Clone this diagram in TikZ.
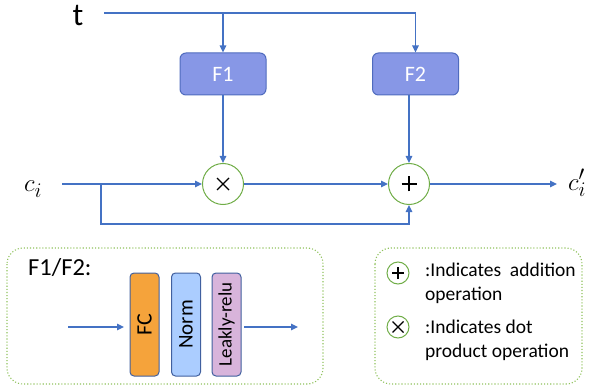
\documentclass[tikz,border=0pt]{standalone}
\usepackage{fontspec}
\setmainfont{Carlito}
\usetikzlibrary{arrows.meta}
\definecolor{lineblue}{HTML}{4472C4}
\definecolor{ffill}{HTML}{8797E6}
\definecolor{fdraw}{HTML}{4F6BBE}
\definecolor{opgreen}{HTML}{70AD47}
\definecolor{dotgreen}{HTML}{8FC15C}
\definecolor{fcfill}{HTML}{F5A33B}
\definecolor{normfill}{HTML}{ABCDFF}
\definecolor{relufill}{HTML}{D8B4DB}
\definecolor{layerdraw}{HTML}{41609F}
\tikzset{
  conn/.style={draw=lineblue, line width=1.3pt},
  arr/.style={conn, -{Triangle[length=7pt,width=6.5pt]}},
  fbox/.style={rectangle, rounded corners=6pt, fill=ffill, draw=fdraw, line width=1pt,
    minimum width=86pt, minimum height=42pt, inner sep=0pt, text=white,
    font=\fontsize{22}{22}\selectfont},
  opcirc/.style={circle, draw=opgreen, line width=1pt, fill=white, inner sep=0pt, minimum size=41pt},
  legcirc/.style={circle, draw=opgreen, line width=1pt, fill=white, inner sep=0pt, minimum size=22pt},
  symline/.style={draw=black, line width=1.4pt},
  layerbox/.style={rectangle, rounded corners=4pt, draw=layerdraw, line width=1pt,
    minimum width=29pt, minimum height=103pt, inner sep=0pt},
  groupbox/.style={draw=dotgreen, dotted, line width=1.1pt, rounded corners=16pt},
  legtext/.style={anchor=base west, inner sep=0pt, font=\fontsize{19.5}{24}\selectfont},
  mathlabel/.style={anchor=base west, inner sep=0pt, font=\fontsize{28}{28}\selectfont},
}
\begin{document}
\begin{tikzpicture}[x=1pt,y=-1pt]
\useasboundingbox (0,0) rectangle (593,387);
% top part
\node[anchor=base, inner sep=0pt, font=\fontsize{32}{32}\selectfont] (t) at (78,26) {t};
\coordinate (t0) at (104,13);
\node[fbox] (F1) at (223,74) {F1};
\node[fbox] (F2) at (415.5,74) {F2};
\node[opcirc] (mul) at (223,184) {};
\node[opcirc] (add) at (409,184) {};
\node[mathlabel] (ci) at (24,192) {$c_i$};
\node[mathlabel] (cip) at (568,190) {$c_i'$};
\coordinate (c0) at (62,184);
\coordinate (cb) at (101,184);
\coordinate (cbd) at (101,224);
\coordinate (outend) at (557,184);
% symbols in circles
\draw[symline] ([xshift=-7.5pt]add.center) -- ([xshift=7.5pt]add.center);
\draw[symline] ([yshift=-7.5pt]add.center) -- ([yshift=7.5pt]add.center);
\draw[symline, line width=1.1pt] ([shift={(-6,-6)}]mul.center) -- ([shift={(6,6)}]mul.center);
\draw[symline, line width=1.1pt] ([shift={(-6,6)}]mul.center) -- ([shift={(6,-6)}]mul.center);
% connectors
\draw[conn] (t0) -- (t0 -| F2.north);
\draw[arr] (t0 -| F1.north) -- (F1.north);
\draw[arr] (t0 -| F2.north) -- (F2.north);
\draw[arr] (F1.south) -- (mul.north);
\draw[arr] (F2.south -| add.north) -- (add.north);
\draw[arr] (c0) -- (mul.west);
\draw[arr] (mul.east) -- (add.west);
\draw[arr] (cb) -- (cbd) -- (cbd -| add.south) -- (add.south);
\draw[arr] (add.east) -- (outend);
% bottom left group
\draw[groupbox] (7,248) rectangle (323,384);
\node[anchor=base west, inner sep=0pt, font=\fontsize{24.5}{24.5}\selectfont] (ftitle) at (28,275) {F1/F2:};
\node[layerbox, fill=fcfill] (fc) at (144.5,324.5) {};
\node[layerbox, fill=normfill] (norm) at (186,324.5) {};
\node[layerbox, fill=relufill] (relu) at (226.5,324.5) {};
\node[rotate=90, inner sep=0pt, font=\fontsize{22}{22}\selectfont] (fct) at (fc.center) {FC};
\node[rotate=90, inner sep=0pt, font=\fontsize{21}{21}\selectfont] (normt) at (norm.center) {Norm};
\node[rotate=90, inner sep=0pt, font=\fontsize{19}{19}\selectfont] (relut) at (relu.center) {Leakly-relu};
\coordinate (inA) at (68,327);
\coordinate (inB) at (124,327);
\coordinate (outA) at (244,327);
\coordinate (outB) at (298,327);
\draw[arr] (inA) -- (inB);
\draw[arr] (outA) -- (outB);
% legend
\draw[groupbox] (375,248) rectangle (582,384);
\node[legcirc] (lplus) at (398,273) {};
\node[legcirc] (ltimes) at (398,327) {};
\draw[symline, line width=1.8pt] ([xshift=-6pt]lplus.center) -- ([xshift=6pt]lplus.center);
\draw[symline, line width=1.8pt] ([yshift=-6pt]lplus.center) -- ([yshift=6pt]lplus.center);
\draw[symline, line width=1.3pt] ([shift={(-5.5,-5.5)}]ltimes.center) -- ([shift={(5.5,5.5)}]ltimes.center);
\draw[symline, line width=1.3pt] ([shift={(-5.5,5.5)}]ltimes.center) -- ([shift={(5.5,-5.5)}]ltimes.center);
\node[legtext] (l1) at (425,276) {:Indicates\ \ addition};
\node[legtext] (l2) at (425,300) {operation};
\node[legtext] (l3) at (425,333) {:Indicates dot};
\node[legtext] (l4) at (425,357) {product operation};
\end{tikzpicture}
\end{document}
